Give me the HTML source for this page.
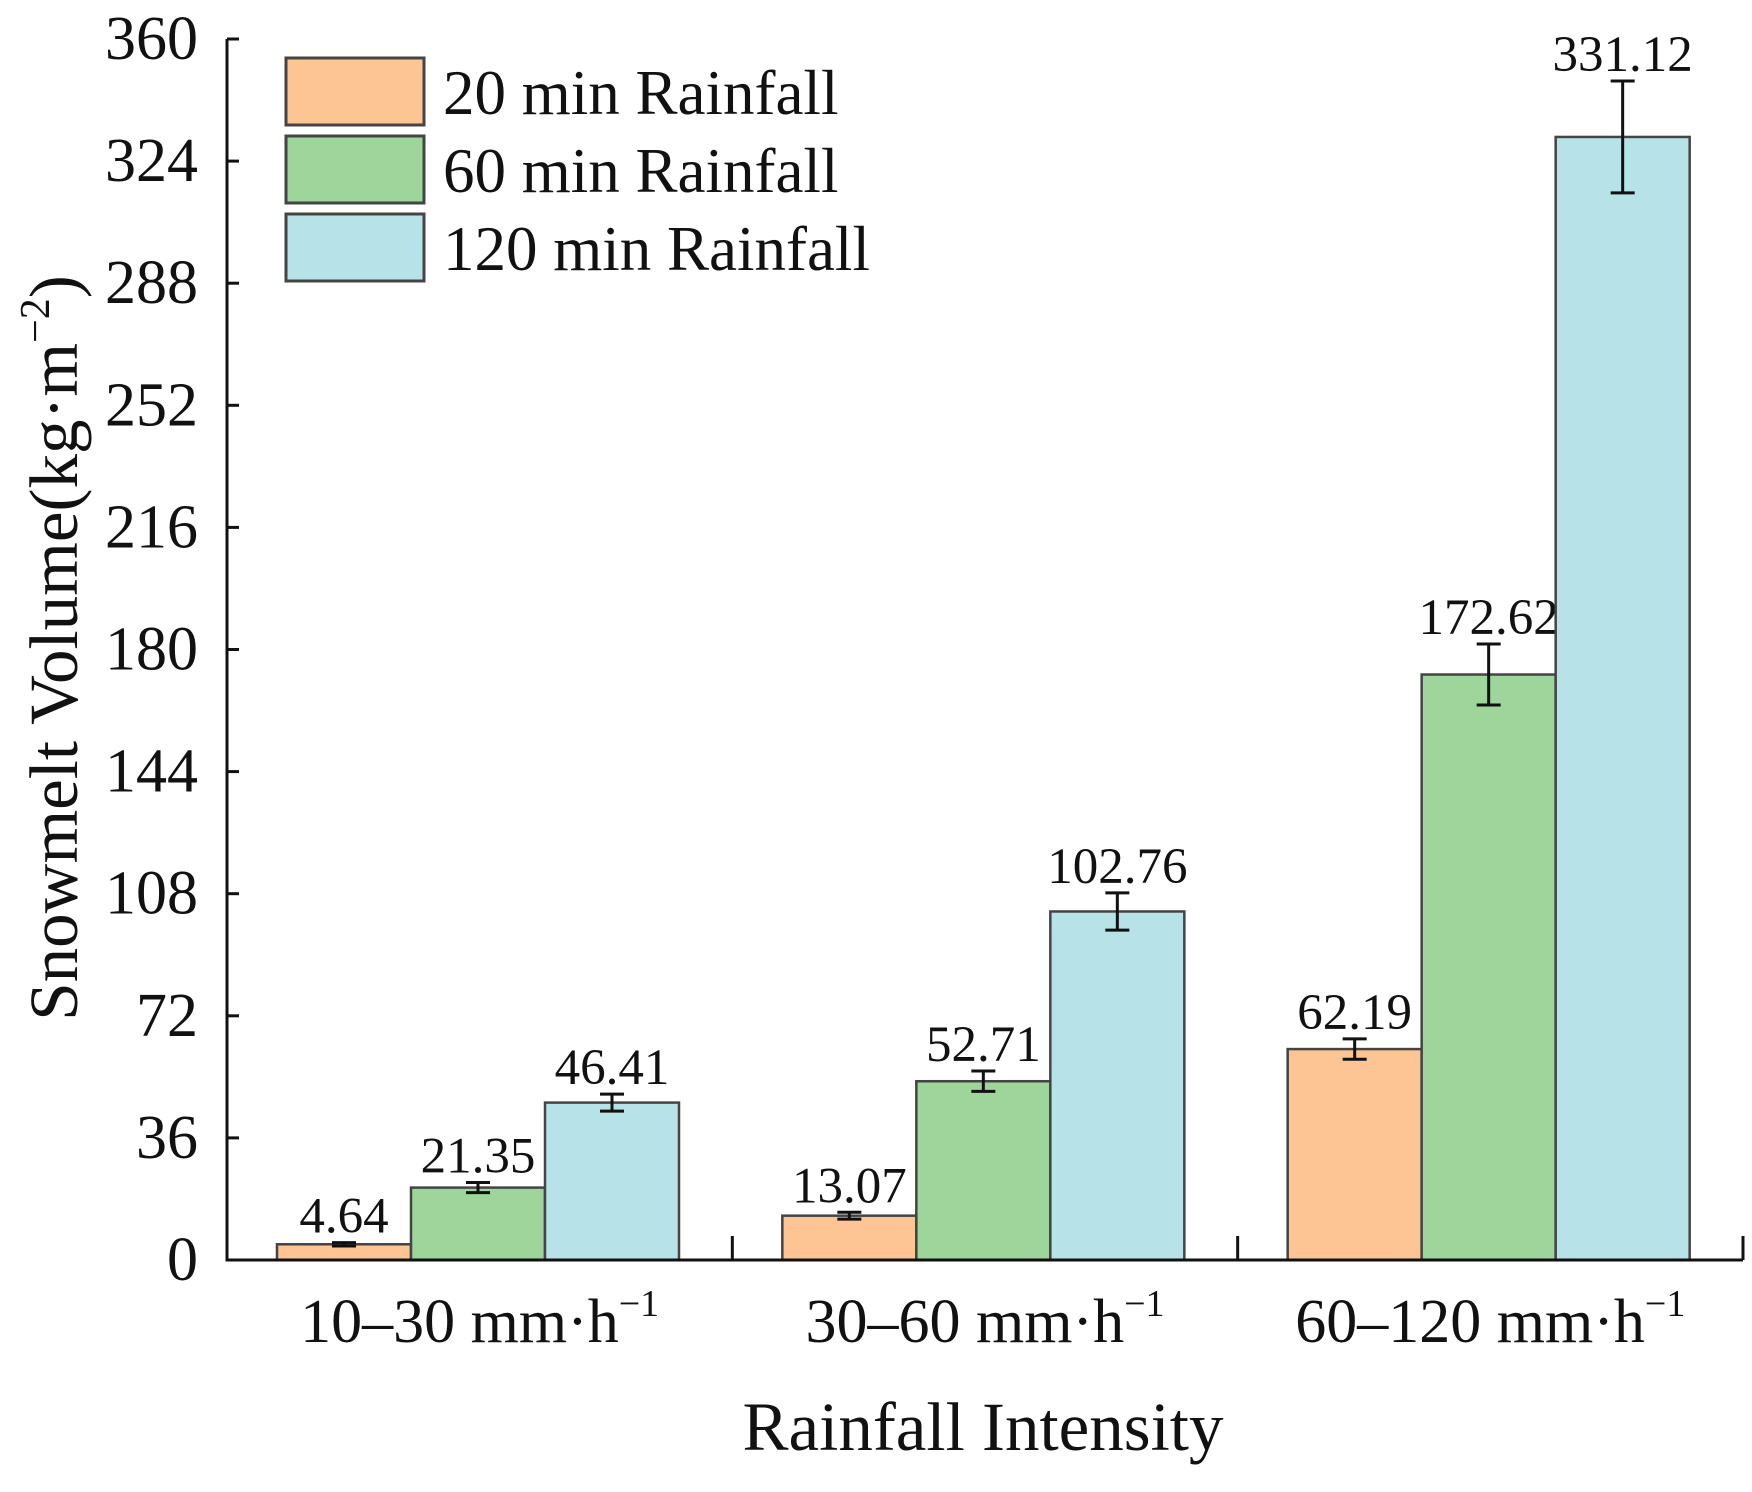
<!DOCTYPE html>
<html><head><meta charset="utf-8"><style>
body{margin:0;background:#fff}
svg text{font-family:"Liberation Serif",serif;fill:#111}
</style></head><body>
<svg id="c" width="1752" height="1487" xmlns="http://www.w3.org/2000/svg"></svg>
<script>
const categories=["10–30 mm·h","30–60 mm·h","60–120 mm·h"];
const seriesNames=["20 min Rainfall","60 min Rainfall","120 min Rainfall"];
const s20=[4.64,13.07,62.19];
const s60=[21.35,52.71,172.62];
const s120=[46.41,102.76,331.12];
const e20=[0.5,1,3];
const e60=[1.5,3,9];
const e120=[2.5,5.5,16.5];
const yTicks=[0,36,72,108,144,180,216,252,288,324,360];
const colors=["#FDC593","#9DD59A","#B7E2E8"];
const series=[s20,s60,s120], errs=[e20,e60,e120];
const NS="http://www.w3.org/2000/svg", svg=document.getElementById('c');
const x0=227,x1=1743,yB=1260,yT=39,ymax=360;
const y=v=>yB-(v/ymax)*(yB-yT);
const gw=(x1-x0)/3, bw=134, off=50;
function mk(t,a,txt){const e=document.createElementNS(NS,t);for(const k in a)e.setAttribute(k,a[k]);if(txt!==undefined)e.textContent=txt;svg.appendChild(e);return e;}
series.forEach((s,si)=>s.forEach((v,ci)=>{
  const bx=x0+ci*gw+off+si*bw;
  const r=mk('rect',{x:bx,y:y(v),width:bw,height:yB-y(v),fill:colors[si],stroke:'#444','stroke-width':2.5});
  
  
  const cx=bx+bw/2,e=errs[si][ci];
  const eb=mk('path',{d:`M${cx},${y(v+e)}V${y(v-e)}M${cx-12},${y(v+e)}h24M${cx-12},${y(v-e)}h24`,stroke:'#111','stroke-width':3,fill:'none'});
  
  
  const t=mk('text',{x:cx,y:y(v+e)-10,'text-anchor':'middle','font-size':51},v.toFixed(2));
  
  
}));
const ax=mk('path',{d:`M${x0},${yT}V${yB}H${x1}`,stroke:'#111','stroke-width':3,fill:'none'});


yTicks.forEach(v=>{
  const tk=mk('line',{x1:x0,x2:x0+12,y1:y(v),y2:y(v),stroke:'#111','stroke-width':3});
  
  
  const t=mk('text',{x:x0-29,y:y(v)+20,'text-anchor':'end','font-size':62},String(v));
  
  
});
for(let i=1;i<=3;i++){
  const tk=mk('line',{x1:x0+i*gw,x2:x0+i*gw,y1:yB,y2:yB-24,stroke:'#111','stroke-width':3});
  
  
}
categories.forEach((c,i)=>{
  const t=mk('text',{x:x0+(i+0.5)*gw,y:1342,'text-anchor':'middle','font-size':62},c);
  
  
  const sp=document.createElementNS(NS,'tspan');sp.setAttribute('dy',-26);sp.setAttribute('font-size',38);sp.textContent='−1';t.appendChild(sp);
});
const xt=mk('text',{x:983,y:1450,'text-anchor':'middle','font-size':69},'Rainfall Intensity');


const yt=mk('text',{x:0,y:0,'text-anchor':'middle','font-size':69,transform:'translate(77,648) rotate(-90)'},'Snowmelt Volume(kg·m');


const s1=document.createElementNS(NS,'tspan');s1.setAttribute('dy',-28);s1.setAttribute('font-size',42);s1.textContent='−2';yt.appendChild(s1);
const s2=document.createElementNS(NS,'tspan');s2.setAttribute('dy',28);s2.textContent=')';yt.appendChild(s2);
seriesNames.forEach((n,i)=>{
  const ly=58+i*78;
  const r=mk('rect',{x:286,y:ly,width:138,height:67,fill:colors[i],stroke:'#444','stroke-width':3});
  
  
  const t=mk('text',{x:443,y:ly+56,'font-size':63},n);
  
  
});
</script>
</body></html>
